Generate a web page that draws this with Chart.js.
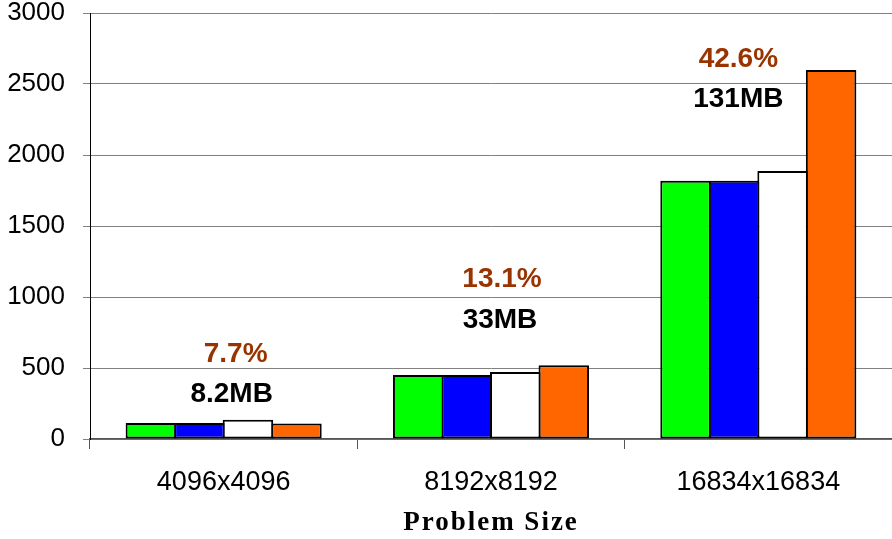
<!DOCTYPE html>
<html>
<head>
<meta charset="utf-8">
<script src="https://cdn.jsdelivr.net/npm/chart.js@4.4.1/dist/chart.umd.min.js"></script>
<style>
  html, body { margin: 0; padding: 0; background: #ffffff; }
  #wrap { width: 892px; height: 539px; }
</style>
</head>
<body>
<div id="wrap"><canvas id="c" width="892" height="539"></canvas></div>
<script>
// Problem sizes along the x axis
const categories = ['4096x4096', '8192x8192', '16834x16834'];

// Four measured series per problem size
const seriesGreen  = [112, 450, 1818];
const seriesBlue   = [112, 450, 1818];
const seriesWhite  = [135, 472, 1887];
const seriesOrange = [110, 519, 2598];

// Y axis ticks
const yTicks = [0, 500, 1000, 1500, 2000, 2500, 3000];

// Annotation texts per problem size
const pctLabels  = ['7.7%', '13.1%', '42.6%'];
const sizeLabels = ['8.2MB', '33MB', '131MB'];

const xTitle = 'Problem Size';

// Where each annotation sits: category index, pixel shift, value on the y scale
const annotationPlacement = [
  { pctDx: 12,  pctY: 595,  sizeDx: 8,   sizeY: 317 },
  { pctDx: 11,  pctY: 1127, sizeDx: 9,   sizeY: 838 },
  { pctDx: -20, pctY: 2676, sizeDx: -20, sizeY: 2391 }
];

const annotationPlugin = {
  id: 'annotations',
  afterDraw(chart) {
    const { ctx, scales: { x, y }, chartArea } = chart;
    ctx.save();
    ctx.textAlign = 'center';
    ctx.textBaseline = 'middle';
    ctx.font = 'bold 28px "Liberation Sans", Arial, sans-serif';
    annotationPlacement.forEach((p, i) => {
      const cx = x.getPixelForValue(i);
      ctx.fillStyle = '#993300';
      ctx.fillText(pctLabels[i], cx + p.pctDx, y.getPixelForValue(p.pctY));
      ctx.fillStyle = '#000000';
      ctx.fillText(sizeLabels[i], cx + p.sizeDx, y.getPixelForValue(p.sizeY));
    });
    // x axis title, bold serif with wide letter spacing
    ctx.font = 'bold 27px "Liberation Serif", "Times New Roman", serif';
    ctx.letterSpacing = '2px';
    ctx.fillStyle = '#000000';
    ctx.fillText(xTitle, (chartArea.left + chartArea.right) / 2, 523);
    ctx.restore();
  }
};

const common = {
  borderColor: '#000000',
  borderWidth: 2,
  borderSkipped: false,
  categoryPercentage: 0.726,
  barPercentage: 1.041
};

new Chart(document.getElementById('c'), {
  type: 'bar',
  data: {
    labels: categories,
    datasets: [
      Object.assign({ label: 'A', data: seriesGreen,  backgroundColor: '#00ff00' }, common),
      Object.assign({ label: 'B', data: seriesBlue,   backgroundColor: '#0000ff' }, common),
      Object.assign({ label: 'C', data: seriesWhite,  backgroundColor: '#ffffff' }, common),
      Object.assign({ label: 'D', data: seriesOrange, backgroundColor: '#ff6600' }, common)
    ]
  },
  options: {
    responsive: false,
    animation: false,
    devicePixelRatio: 1,
    layout: { padding: { top: 13, left: 0, right: 0, bottom: 0 } },
    plugins: {
      legend: { display: false },
      tooltip: { enabled: false },
      title: { display: false }
    },
    scales: {
      x: {
        offset: true,
        afterFit(scale) { scale.height = 100; },
        grid: {
          display: true,
          drawOnChartArea: false,
          tickLength: 10,
          color: '#555555',
          lineWidth: 1
        },
        border: { display: true, color: '#555555', width: 1.5 },
        ticks: {
          color: '#000000',
          padding: 20,
          font: { family: '"Liberation Sans", Arial, sans-serif', size: 27, lineHeight: 1 }
        }
      },
      y: {
        min: 0,
        max: 3000,
        afterFit(scale) {
          scale.width = 90;
          scale.paddingTop = 13;
          scale.paddingBottom = 13;
        },
        afterBuildTicks(scale) { scale.ticks = yTicks.map(v => ({ value: v })); },
        grid: {
          color: '#808080',
          lineWidth: 1,
          tickLength: 7
        },
        border: { display: true, color: '#000000', width: 1 },
        ticks: {
          color: '#000000',
          padding: 18,
          callback: (v) => String(v),
          font: { family: '"Liberation Sans", Arial, sans-serif', size: 26, lineHeight: 1 }
        }
      }
    }
  },
  plugins: [annotationPlugin]
});
</script>
</body>
</html>
